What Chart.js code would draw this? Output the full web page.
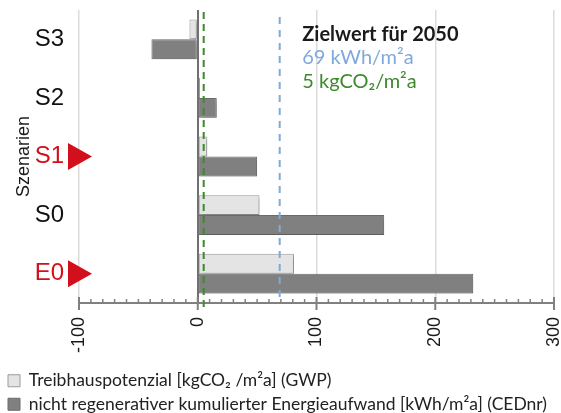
<!DOCTYPE html>
<html lang="de">
<head>
<meta charset="utf-8">
<script src="https://cdn.jsdelivr.net/npm/chart.js@4.4.1/dist/chart.umd.min.js"></script>
<style>
  html, body { margin: 0; padding: 0; background: #fff; }
  #wrap { position: relative; width: 561px; height: 413px; }
</style>
</head>
<body>
<div id="wrap"><canvas id="szenarienChart"></canvas></div>
<script>
// Szenarien, von oben nach unten
const scenarios = ['S3', 'S2', 'S1', 'S0', 'E0'];
const highlighted = ['S1', 'E0'];

// Treibhauspotenzial [kgCO2/m²a] (GWP)
const gwpValues = [-7, 2, 8, 52, 81];
// nicht regenerativer kumulierter Energieaufwand [kWh/m²a] (CEDnr)
const cedValues = [-39, 16, 50, 157, 232];

const xTicks = [-100, 0, 100, 200, 300];
const seriesLabels = [
    'Treibhauspotenzial [kgCO₂ /m²a] (GWP)',
    'nicht regenerativer kumulierter Energieaufwand [kWh/m²a] (CEDnr)'
];

// Zielwerte 2050
const targetCED = 69;
const targetGWP = 5;
const targetText = ['Zielwert für 2050', '69 kWh/m²a', '5 kgCO₂/m²a'];

const RED = '#d20f1a';
const BLUE = '#7fa9dd';
const GREEN = '#3b8a2c';
const LABEL_FONT = '"Liberation Sans", Arial, sans-serif';
const TEXT_FONT = 'Lato, "Open Sans", sans-serif';

// soft shadow under the bars
const barShadow = {
    id: 'barShadow',
    beforeDatasetsDraw(chart) {
        const ctx = chart.ctx;
        ctx.save();
        ctx.shadowColor = 'rgba(0, 0, 0, 0.2)';
        ctx.shadowBlur = 3;
        ctx.shadowOffsetX = 2;
        ctx.shadowOffsetY = 2;
    },
    afterDatasetsDraw(chart) {
        chart.ctx.restore();
    }
};

// axis tick marks, target lines, markers and note
const decorations = {
    id: 'decorations',
    afterDatasetsDraw(chart) {
        const { ctx, chartArea, scales: { x, y } } = chart;
        const axisY = chartArea.bottom;
        ctx.save();

        // tick marks along the value axis
        ctx.strokeStyle = '#808080';
        for (let v = xTicks[0]; v <= xTicks[xTicks.length - 1]; v += 10) {
            const px = x.getPixelForValue(v);
            const major = v % 100 === 0;
            ctx.lineWidth = major ? 2 : 1.5;
            ctx.beginPath();
            ctx.moveTo(px, axisY - (major ? 6 : 4));
            ctx.lineTo(px, axisY + (major ? 7 : 0));
            ctx.stroke();
        }

        // target lines
        function dashed(value, color, pattern, top, bottom) {
            const px = x.getPixelForValue(value);
            ctx.strokeStyle = color;
            ctx.lineWidth = 2;
            ctx.setLineDash(pattern);
            ctx.beginPath();
            ctx.moveTo(px, top);
            ctx.lineTo(px, bottom);
            ctx.stroke();
        }
        dashed(targetCED, BLUE, [7, 6], chartArea.top + 7, axisY - 5);
        dashed(targetGWP, GREEN, [7, 5], chartArea.top + 2, axisY + 4);
        ctx.setLineDash([]);

        // red markers next to the highlighted scenarios
        ctx.fillStyle = RED;
        highlighted.forEach(name => {
            const cy = y.getPixelForValue(scenarios.indexOf(name));
            ctx.beginPath();
            ctx.moveTo(y.right - 11, cy - 13.5);
            ctx.lineTo(y.right + 13, cy);
            ctx.lineTo(y.right - 11, cy + 13.5);
            ctx.closePath();
            ctx.fill();
        });

        // note
        const nx = x.getPixelForValue(88);
        ctx.textBaseline = 'alphabetic';
        ctx.textAlign = 'left';
        ctx.font = 'bold 20px ' + TEXT_FONT;
        ctx.fillStyle = '#1a1a1a';
        ctx.fillText(targetText[0], nx, chartArea.top + 31);
        ctx.font = '20px ' + TEXT_FONT;
        ctx.fillStyle = BLUE;
        ctx.fillText(targetText[1], nx, chartArea.top + 54);
        ctx.fillStyle = GREEN;
        ctx.fillText(targetText[2], nx, chartArea.top + 78);

        ctx.restore();
    }
};

document.addEventListener('DOMContentLoaded', function() {
    const ctx = document.getElementById('szenarienChart');
    new Chart(ctx, {
        type: 'bar',
        data: {
            labels: scenarios,
            datasets: [{
                label: seriesLabels[0],
                data: gwpValues,
                backgroundColor: '#e3e4e3',
                borderColor: '#9a9a9a',
                borderWidth: 1,
                borderSkipped: false
            }, {
                label: seriesLabels[1],
                data: cedValues,
                backgroundColor: '#808080',
                borderColor: '#6b6b6b',
                borderWidth: 1,
                borderSkipped: false
            }]
        },
        options: {
            indexAxis: 'y',
            responsive: true,
            maintainAspectRatio: false,
            animation: false,
            layout: {
                padding: { top: 10, left: 2, right: 7, bottom: -10 }
            },
            datasets: {
                bar: {
                    categoryPercentage: 0.68,
                    barPercentage: 1.0
                }
            },
            plugins: {
                legend: {
                    position: 'bottom',
                    align: 'start',
                    labels: {
                        boxWidth: 12,
                        boxHeight: 12,
                        padding: 6,
                        color: '#222',
                        font: { family: TEXT_FONT, size: 17.5 }
                    }
                },
                tooltip: { enabled: false }
            },
            scales: {
                x: {
                    min: xTicks[0],
                    max: xTicks[xTicks.length - 1],
                    afterBuildTicks: function(scale) {
                        scale.ticks = xTicks.map(v => ({ value: v }));
                    },
                    afterFit: function(scale) {
                        scale.height = 63;
                        scale.paddingLeft = 0;
                        scale.paddingRight = 0;
                    },
                    border: { display: true, color: '#808080', width: 2 },
                    grid: {
                        drawTicks: false,
                        color: function(c) {
                            return c.tick && c.tick.value === 0 ? '#707070' : '#dcdcdc';
                        },
                        lineWidth: function(c) {
                            return c.tick && c.tick.value === 0 ? 2 : 1.5;
                        }
                    },
                    ticks: {
                        minRotation: 90,
                        maxRotation: 90,
                        padding: 14,
                        color: '#1a1a1a',
                        font: { family: LABEL_FONT, size: 18 },
                        callback: function(value) {
                            return String(value);
                        }
                    }
                },
                y: {
                    afterFit: function(scale) {
                        scale.width = 77;
                        scale.paddingTop = 0;
                        scale.paddingBottom = 0;
                    },
                    border: { display: false },
                    grid: { display: false, drawTicks: false },
                    title: {
                        display: true,
                        text: 'Szenarien',
                        color: '#1a1a1a',
                        font: { family: LABEL_FONT, size: 18 },
                        padding: { top: 11, bottom: 0 }
                    },
                    ticks: {
                        padding: 15,
                        color: function(c) {
                            return highlighted.includes(scenarios[c.index]) ? RED : '#111';
                        },
                        font: { family: LABEL_FONT, size: 24 }
                    }
                }
            }
        },
        plugins: [barShadow, decorations]
    });
});
</script>
</body>
</html>
